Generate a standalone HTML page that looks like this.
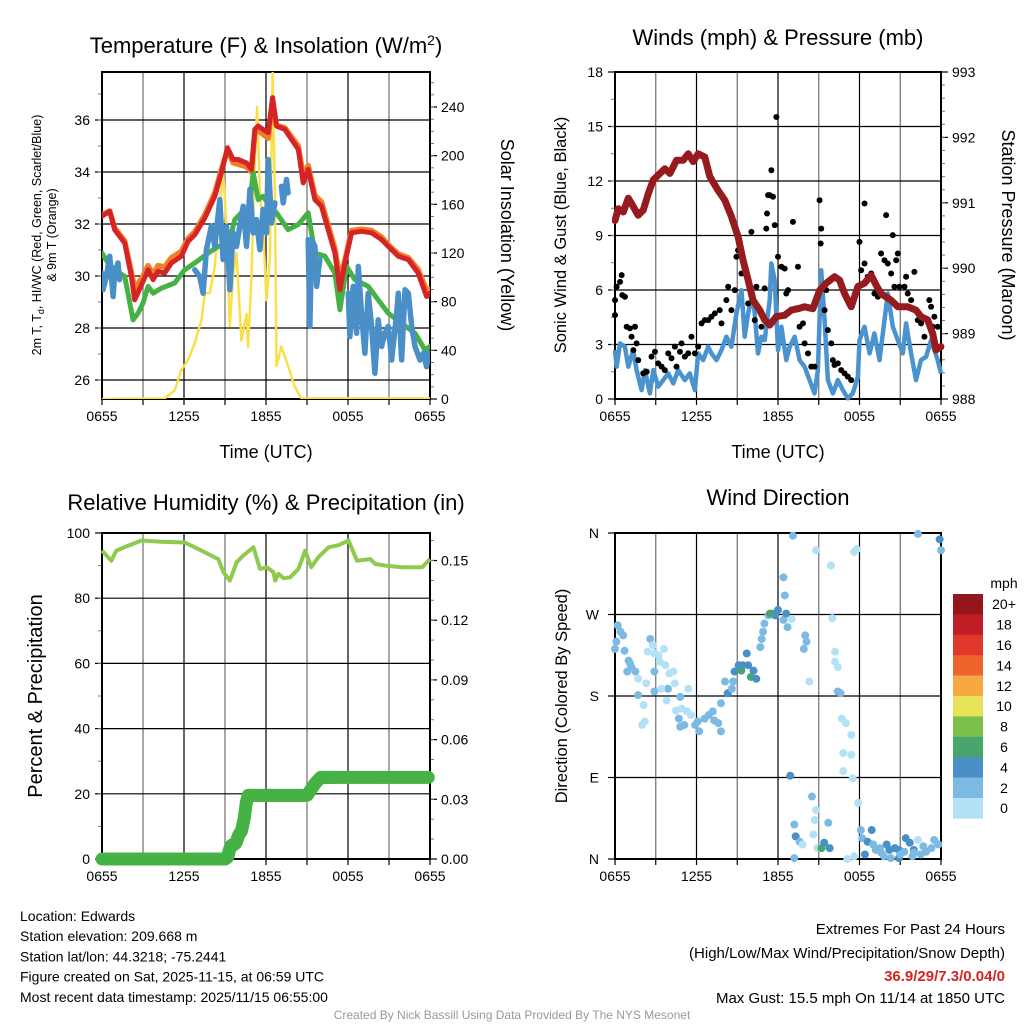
<!DOCTYPE html>
<html><head><meta charset="utf-8"><style>
body{margin:0;background:#fff}
svg{display:block;font-family:"Liberation Sans",Arial,sans-serif}
</style></head><body>
<svg id="s" width="1024" height="1024" viewBox="0 0 1024 1024" xmlns="http://www.w3.org/2000/svg">
<rect width="1024" height="1024" fill="#fff"/>
</svg>
<script>
// ---------- DATA ----------
const xTickLabels=["0655","1255","1855","0055","0655"];
const tempTicks=[26,28,30,32,34,36];
const solarTicks=[0,40,80,120,160,200,240];
const windTicks=[0,3,6,9,12,15,18];
const presTicks=[988,989,990,991,992,993];
const rhTicks=[0,20,40,60,80,100];
const precipTicks=[0.00,0.03,0.06,0.09,0.12,0.15];
const dirLabels=["N","E","S","W","N"];
const speedBins=["0","2","4","6","8","10","12","14","16","18","20+"];
const speedColors=["#b5e1f7","#7dbae3","#4a90c6","#49a56e","#7cc04b","#e6e25a","#f6a843","#ef632c","#e0382c","#c01e24","#93161a"];

const redT=[0,0.56,0.93,1.66,2.15,2.39,3.0,3.37,3.74,4.1,4.59,5.08,5.81,6.3,6.79,7.52,8.25,8.74,9.18,9.59,9.96,10.57,10.94,11.18,11.43,11.79,12.16,12.48,12.77,13.38,13.87,14.36,14.72,15.09,15.58,16.06,16.55,17.04,17.41,17.77,18.26,18.99,19.73,20.46,20.95,21.68,22.41,23.14,23.75,24];
const redV=[32.3,32.49,31.78,31.27,29.98,29.08,29.79,30.24,29.86,30.18,30.11,30.5,30.76,31.33,31.59,32.23,33.07,33.97,34.93,34.48,34.48,34.35,34.1,35.64,35.77,35.64,35.51,36.86,35.77,35.64,35.25,34.87,33.58,34.1,32.94,32.68,31.78,30.88,29.47,30.5,31.66,31.72,31.66,31.4,31.14,30.76,30.63,30.11,29.21,29.34];
const orangeV=[32.35,32.5,31.85,31.35,30.15,29.5,30.0,30.4,30.05,30.4,30.35,30.7,30.95,31.45,31.7,32.35,33.2,34.1,34.85,34.35,34.3,34.2,34.0,35.5,35.6,35.45,35.3,36.7,35.8,35.7,35.35,35.0,33.85,34.25,33.1,32.85,31.95,31.05,29.9,30.6,31.75,31.8,31.75,31.5,31.2,30.85,30.7,30.25,29.45,29.5];
const greenT=[0,0.44,0.93,1.66,1.9,2.27,2.64,3.0,3.37,3.74,4.35,5.32,6.05,6.79,7.76,8.5,9.23,9.72,10.2,10.69,11.06,11.43,11.79,12.28,12.77,13.62,14.36,15.09,15.58,16.31,17.04,17.41,17.9,18.5,19.48,20.21,20.95,21.92,22.9,23.63,24];
const greenV=[30.88,30.5,30.24,29.98,29.34,28.31,28.57,28.96,29.6,29.34,29.53,29.73,30.24,30.5,30.88,31.14,31.14,32.17,32.43,32.3,33.97,32.94,33.07,32.68,32.43,31.78,31.98,32.43,30.88,30.76,30.11,28.7,30.37,29.86,29.6,29.08,28.57,28.18,27.8,27.16,27.29];
const blueT=[0,0.07,0.32,0.56,0.81,0.93,1.17,1.29,null,6.79,7.15,7.4,7.64,8.0,8.25,8.62,8.86,9.11,9.35,9.59,9.84,10.08,10.33,10.57,10.82,11.06,11.3,11.55,11.79,12.04,12.16,12.4,12.65,null,13.13,13.26,13.5,13.62,null,15.09,15.21,15.33,15.58,15.7,15.94,null,18.02,18.14,18.38,18.63,18.75,18.99,19.24,19.48,19.73,19.97,20.21,20.46,20.7,20.95,21.19,21.56,21.68,21.92,22.17,22.41,22.66,22.9,23.27,23.51,23.75,23.88];
const blueV=[30.11,29.47,29.98,30.76,29.21,30.11,30.5,29.86,null,30.24,29.98,29.34,31.01,31.91,31.14,32.94,30.63,31.91,29.47,31.66,31.14,31.91,32.68,31.14,33.33,31.66,32.17,31.01,32.56,31.66,34.48,32.04,32.81,null,33.45,32.81,33.71,33.2,null,31.4,28.06,31.4,31.14,29.6,30.63,null,29.34,27.67,29.6,27.8,30.37,28.57,27.03,29.34,28.06,26.26,28.31,27.29,27.8,28.06,26.77,28.57,29.34,26.77,29.47,29.34,28.06,27.29,26.77,27.03,26.51,27.03];
const solarT=[0,4.59,5.32,5.81,6.3,6.79,7.28,7.52,7.89,8.25,8.5,8.86,9.11,9.35,9.59,9.84,10.2,10.57,10.69,10.94,11.18,11.35,11.55,11.79,12.04,12.28,12.48,12.65,12.77,13.13,13.62,14.11,14.6,24];
const solarV=[0,0.5,7,24,32,46,65,87,87,109,147,186,142,60,101,120,48,70,43,101,196,240,169,142,81,114,268,169,27,43,27,10,0.5,0.5];

const presT=[0,0.24,0.61,0.98,1.35,1.71,2.08,2.45,2.82,3.31,3.67,4.04,4.53,5.02,5.39,5.76,6.12,6.61,6.98,7.59,8.08,8.57,9.06,9.43,9.8,10.16,10.65,11.02,11.39,11.88,12.49,12.98,13.47,13.96,14.57,15.06,15.55,16.16,16.53,16.9,17.39,17.88,18.37,18.86,19.23,19.59,20.33,20.82,21.55,22.16,22.53,23.02,23.39,23.63,24];
const presV=[990.73,990.91,990.86,991.07,990.94,990.81,990.89,991.14,991.35,991.45,991.52,991.45,991.65,991.65,991.75,991.63,991.75,991.7,991.4,991.19,991.04,990.79,990.48,990.12,989.82,989.51,989.36,989.21,989.13,989.26,989.28,989.36,989.38,989.41,989.38,989.66,989.77,989.87,989.82,989.61,989.41,989.72,989.77,989.89,989.74,989.61,989.51,989.41,989.41,989.36,989.26,989.21,989.0,988.75,988.8];
const windT=[0,0.12,0.37,0.73,0.98,1.35,1.59,1.96,2.2,2.57,2.82,3.18,3.55,3.92,4.29,4.65,5.14,5.51,5.88,6.12,6.49,6.86,7.1,7.47,7.84,8.2,8.57,8.94,9.31,9.55,9.8,10.16,10.53,10.78,11.02,11.39,11.51,11.76,12.0,12.25,12.61,12.86,13.23,13.59,13.96,14.33,14.69,14.94,15.18,15.43,15.67,16.04,16.41,16.78,17.14,17.51,17.88,18.0,18.37,18.74,19.1,19.47,19.84,20.08,20.45,20.82,21.19,21.43,21.8,22.16,22.53,22.9,23.27,23.76,24];
const windV=[2.69,1.78,3.06,2.88,1.78,2.69,1.59,0.49,1.59,0.31,1.59,0.68,1.04,1.41,0.86,1.59,1.04,1.41,0.49,2.51,2.14,2.88,2.51,2.14,2.69,3.43,2.88,4.71,5.99,3.43,4.71,5.81,2.51,3.43,3.24,5.44,7.46,6.54,2.69,3.98,2.14,2.88,3.43,2.14,1.78,1.04,0.31,1.59,7.09,4.34,1.04,0.31,1.04,0.49,0.04,0.31,1.23,3.24,3.98,2.51,3.61,2.14,4.34,5.81,3.98,3.24,2.51,4.16,2.51,1.04,2.14,2.33,3.24,2.14,1.41];
const gustT=[0,0,0.12,0.37,0.49,0.54,0.73,0.86,1.1,1.47,1.22,1.59,1.35,1.71,2.08,2.33,2.69,2.94,3.18,3.43,3.67,3.92,4.16,4.41,4.53,4.78,4.9,5.14,5.39,5.63,5.88,6.12,6.37,6.61,6.86,7.1,7.35,7.71,7.84,8.2,8.33,8.57,8.82,8.94,9.06,9.18,9.31,9.55,9.8,10.04,10.29,10.41,10.78,11.02,11.14,11.19,11.27,11.39,11.51,11.63,11.76,11.88,12.0,12.25,12.49,12.61,12.74,13.1,13.35,13.47,13.59,13.84,13.96,14.21,14.45,14.69,15.06,15.14,15.18,15.43,15.55,15.67,15.92,16.04,16.16,16.41,16.65,16.9,17.14,17.39,18.0,18.12,18.37,18.37,18.61,18.86,19.1,19.35,19.59,19.84,19.96,20.08,20.33,20.45,20.57,20.7,20.82,20.94,21.31,21.43,21.55,21.8,22.04,22.29,22.53,22.78,23.14,23.27,23.39,23.51,23.76];
const gustV=[5.44,4.62,6.18,6.45,6.82,5.72,5.63,3.98,3.89,3.98,3.43,3.06,2.69,2.14,1.41,1.5,2.33,2.6,1.96,1.78,1.59,2.51,2.24,2.88,1.78,2.6,3.06,2.33,2.51,3.43,2.51,2.88,4.16,4.34,4.34,4.53,4.71,4.89,4.16,5.44,6.18,4.89,5.99,7.83,8.19,8.65,6.91,6.91,5.26,9.2,4.34,6.18,3.98,6.09,9.38,10.21,11.22,11.22,12.59,11.13,9.57,15.52,7.83,7.28,7.18,5.81,5.99,9.75,4.99,7.28,3.98,4.16,3.06,2.51,1.78,1.78,10.94,8.56,9.38,4.89,5.99,3.79,3.06,2.14,1.87,1.96,1.59,1.41,1.23,1.04,8.65,7.09,7.46,10.76,6.73,6.91,5.81,5.63,8.01,7.64,10.12,7.46,6.91,9.02,6.18,7.64,8.01,6.18,6.18,6.73,5.81,5.44,7.0,4.34,4.16,3.43,5.44,5.08,3.98,4.53,3.98];

const rhT=[0,0.68,1.05,1.91,2.89,4.35,6.06,7.04,8.51,8.88,9.36,9.85,10.34,11.08,11.56,12.05,12.54,12.67,12.91,13.28,13.77,14.38,14.87,15.31,15.84,16.58,17.31,18.04,18.66,19.63,20.0,20.73,21.96,23.43,24];
const rhV=[94.6,91.5,94.6,96.1,97.7,97.3,97.1,95.1,92.0,88.0,85.4,91.0,93.1,95.6,89.0,89.5,88.0,85.4,87.5,86.1,86.4,89.0,94.6,89.5,92.6,95.6,96.3,97.7,91.5,92.0,90.5,90.0,89.5,89.5,92.0];
const precipT=[0,1,2,3,4,5,6,7,8,8.5,9,9.2,9.3,9.4,9.5,9.6,9.8,10.0,10.2,10.4,10.55,10.7,11,11.5,12,12.5,13,13.5,14,14.5,15,15.3,15.6,16,16.5,17,18,19,20,21,22,23,24];
const precipV=[0,0,0,0,0,0,0,0,0,0,0,0.001,0.004,0.006,0.007,0.007,0.008,0.012,0.014,0.02,0.028,0.032,0.032,0.032,0.032,0.032,0.032,0.032,0.032,0.032,0.032,0.035,0.038,0.041,0.041,0.041,0.041,0.041,0.041,0.041,0.041,0.041,0.041];

const dirPts=[[0,232,3],[0.2,258,3],[0.4,251,3],[0.6,247,3],[0.1,240,3],[0.7,230,3],[1.0,219,3],[1.1,216,3],[1.2,212,3],[0.9,207,3],[1.5,207,3],[1.7,199,1],[1.7,181,3],[2.1,170,1],[2.3,194,1],[2.0,148,1],[2.2,152,1],[2.6,243,3],[2.4,229,1],[2.8,236,1],[2.9,227,1],[3.2,225,1],[3.3,218,1],[3.6,232,1],[3.7,214,1],[4.0,205,1],[4.3,207,1],[4.4,194,1],[3.9,188,3],[2.9,185,3],[2.9,207,3],[3.4,188,1],[3.8,175,1],[4.8,179,3],[5.4,188,1],[4.5,164,1],[4.9,166,1],[5.3,163,1],[4.7,155,3],[4.8,146,3],[5.1,148,3],[5.6,159,1],[5.9,148,3],[6.2,141,3],[6.1,152,3],[6.6,155,3],[6.9,159,3],[7.2,163,3],[7.3,153,3],[7.6,150,3],[7.8,141,3],[7.8,172,3],[8.1,196,3],[8.3,183,5],[8.6,188,3],[8.7,196,3],[8.8,207,5],[9.1,214,5],[9.3,208,7],[9.4,214,5],[9.7,227,5],[9.8,214,5],[10.0,201,7],[10.2,208,5],[10.4,199,5],[10.7,234,3],[10.8,243,3],[10.9,251,3],[11.0,260,3],[11.3,269,3],[11.4,271,7],[11.6,271,7],[11.8,269,5],[12.0,275,5],[12.4,264,3],[12.6,271,5],[12.7,256,3],[13.0,265,1],[12.5,291,3],[12.4,311,3],[13.1,357,3],[14.0,247,3],[14.1,240,3],[13.9,232,3],[14.3,196,1],[14.8,341,1],[15.9,324,1],[16.0,266,1],[16.2,229,1],[16.2,218,1],[16.4,212,1],[16.4,185,3],[16.6,183,3],[16.7,155,1],[17.0,150,1],[17.4,137,1],[16.8,117,1],[17.4,115,1],[16.8,97,1],[17.5,89,1],[17.9,62,1],[17.8,342,1],[17.6,339,1],[12.9,92,5],[13.2,38,3],[13.3,25,5],[13.6,19,3],[13.8,16,1],[13.2,1,3],[14.5,69,3],[14.8,54,1],[14.7,43,1],[14.6,27,1],[14.9,12,1],[15.2,12,7],[15.4,18,5],[15.8,12,5],[15.7,40,3],[17.1,0,1],[17.6,3,1],[18.1,32,3],[18.2,23,3],[18.4,5,5],[18.6,19,5],[18.9,32,5],[19.0,16,3],[19.2,10,3],[19.6,7,3],[20.0,16,5],[20.2,10,5],[20.3,1,3],[20.6,12,5],[20.9,10,5],[21.3,8,3],[21.4,23,5],[21.7,18,5],[22.0,10,5],[22.3,21,1],[22.5,5,3],[22.9,8,3],[23.3,12,3],[23.5,21,3],[23.8,16,3],[22.3,359,3],[23.9,353,5],[24.0,341,3],[22.0,7,3],[19.5,12,3],[20.9,1,5],[21.0,5,3],[21.9,3,3],[19.8,3,3],[22.7,14,3]];

// ---------- HELPERS ----------
const S=document.getElementById('s');const NS="http://www.w3.org/2000/svg";
function el(tag,attrs,parent){const e=document.createElementNS(NS,tag);for(const k in attrs)e.setAttribute(k,attrs[k]);(parent||S).appendChild(e);return e;}
function txt(str,x,y,size,anchor,parent,extra){const t=el('text',Object.assign({x:x,y:y,'font-size':size,'text-anchor':anchor||'middle',fill:'#000'},extra||{}),parent);t.textContent=str;return t;}
function lin(d0,d1,p0,p1){return v=>p0+(v-d0)/(d1-d0)*(p1-p0);}
function pathOf(ts,vs,X,Y){let d="",pen=false;for(let i=0;i<ts.length;i++){if(ts[i]===null||vs[i]===null){pen=false;continue;}d+=(pen?"L":"M")+X(ts[i]).toFixed(1)+","+Y(vs[i]).toFixed(1);pen=true;}return d;}

function frame(name,L,R,T,B,X,leftTicks,LY,leftMinor,rightTicks,RY,rightMinor,rightFmt){
  const g=el('g',{},S);
  
  
  // vertical grid every 3h
  for(let h=0;h<=24;h+=3){const x=X(h);const l=el('line',{x1:x,x2:x,y1:T,y2:B,stroke:h%6==0?'#000':'#6e6e6e','stroke-width':h%6==0?1.2:1.2},g);
    el('line',{x1:x,x2:x,y1:B,y2:B+6,stroke:'#000','stroke-width':1.2},g);}
  const xl=el('g',{},g);
  
  
  xTickLabels.forEach((s,i)=>txt(s,X(i*6),B+22,14,'middle',xl));
  leftTicks.forEach(v=>{const y=LY(v);el('line',{x1:L,x2:R,y1:y,y2:y,stroke:'#000','stroke-width':1.2},g);el('line',{x1:L-7,x2:L,y1:y,y2:y,stroke:'#000','stroke-width':1.2},g);});
  leftMinor.forEach(v=>{const y=LY(v);if(y>T&&y<B)el('line',{x1:L-4,x2:L,y1:y,y2:y,stroke:'#777','stroke-width':1},g);});
  if(rightTicks){rightTicks.forEach(v=>{const y=RY(v);el('line',{x1:R,x2:R+7,y1:y,y2:y,stroke:'#000','stroke-width':1.2},g);txt(rightFmt(v),R+11,y+5,14,'start',g);});
    rightMinor.forEach(v=>{const y=RY(v);if(y>T&&y<B)el('line',{x1:R,x2:R+4,y1:y,y2:y,stroke:'#777','stroke-width':1},g);});}
  el('rect',{x:L,y:T,width:R-L,height:B-T,fill:'none',stroke:'#000','stroke-width':2},g);
  return g;
}
function range(a,b,s){const r=[];for(let v=a;v<=b+1e-9;v+=s)r.push(+v.toFixed(4));return r;}

// ---------- PANEL 1 ----------
{const L=102,R=430,T=72,B=399;const X=lin(0,24,L,R);const Y=lin(26,36,380,120);const RY=lin(0,240,399,107);
 const g=frame('temperature-panel',L,R,T,B,X,tempTicks,Y,range(25,37,1),solarTicks,RY,range(0,260,10),v=>String(v));
 tempTicks.forEach(v=>txt(String(v),L-12,Y(v)+5,14,'end',g));
 const cl=el('clipPath',{id:'c1'},S);el('rect',{x:L,y:T,width:R-L,height:B-T},cl);
 const sg=el('g',{'clip-path':'url(#c1)'},S);
 const s1=el('path',{d:pathOf(solarT,solarV,X,RY),fill:'none',stroke:'#f9e04b','stroke-width':2.5,'stroke-linejoin':'round'},sg);
 
 const s2=el('path',{d:pathOf(redT,orangeV,X,Y),fill:'none',stroke:'#f47d2a','stroke-width':5.5,'stroke-linejoin':'round','stroke-linecap':'round'},sg);
 
 const s3=el('path',{d:pathOf(greenT,greenV,X,Y),fill:'none',stroke:'#46b245','stroke-width':5,'stroke-linejoin':'round','stroke-linecap':'round'},sg);
 
 const s4=el('path',{d:pathOf(blueT,blueV,X,Y),fill:'none',stroke:'#4a8fc8','stroke-width':5.5,'stroke-linejoin':'round','stroke-linecap':'round'},sg);
 
 const s5=el('path',{d:pathOf(redT,redV,X,Y),fill:'none',stroke:'#d42426','stroke-width':5,'stroke-linejoin':'round','stroke-linecap':'round'},sg);
 
 const t=el('text',{x:266,y:53,'font-size':22,'text-anchor':'middle'});t.innerHTML='Temperature (F) &amp; Insolation (W/m<tspan dy="-8" font-size="14">2</tspan><tspan dy="8">)</tspan>';
 
 txt('Time (UTC)',266,458,18,'middle',S,{});
 const yl=el('text',{transform:'translate(41,235) rotate(-90)','font-size':12.5,'text-anchor':'middle'});yl.innerHTML='2m T, T<tspan dy="3" font-size="9">d</tspan><tspan dy="-3">, HI/WC (Red, Green, Scarlet/Blue)</tspan>';
 
 txt('& 9m T (Orange)',0,0,12.5,'middle',S,{transform:'translate(56,235) rotate(-90)',});
 txt('Solar Insolation (Yellow)',0,0,18,'middle',S,{transform:'translate(501,235) rotate(90)',});
}
// ---------- PANEL 2 ----------
{const L=615,R=941,T=72,B=399;const X=lin(0,24,L,R);const Y=lin(0,18,B,T);const RY=lin(988,993,B,T);
 const g=frame('winds-panel',L,R,T,B,X,windTicks,Y,range(0,18,1.5),presTicks,RY,range(988,993,0.2),v=>String(v));
 windTicks.forEach(v=>txt(String(v),L-12,Y(v)+5,14,'end',g));
 const cl=el('clipPath',{id:'c2'},S);el('rect',{x:L-3,y:T-3,width:R-L+6,height:B-T+6},cl);
 const sg=el('g',{'clip-path':'url(#c2)'},S);
 const w=el('path',{d:pathOf(windT,windV,X,Y),fill:'none',stroke:'#4a93cf','stroke-width':4.5,'stroke-linejoin':'round'},sg);
 
 const gg=el('g',{},sg);
 
 gustT.forEach((t,i)=>{const c=el('circle',{cx:X(t),cy:Y(gustV[i]),r:3,fill:'#000'},gg);
   
   });
 const p=el('path',{d:pathOf(presT,presV,X,RY),fill:'none',stroke:'#961b1e','stroke-width':7,'stroke-linejoin':'round','stroke-linecap':'round'},sg);
 
 txt('Winds (mph) & Pressure (mb)',778,45,22,'middle',S,{});
 txt('Time (UTC)',778,458,18,'middle',S,{});
 txt('Sonic Wind & Gust (Blue, Black)',0,0,16.5,'middle',S,{transform:'translate(566,235) rotate(-90)',});
 txt('Station Pressure (Maroon)',0,0,18,'middle',S,{transform:'translate(1002,235) rotate(90)',});
}
// ---------- PANEL 3 ----------
{const L=102,R=430,T=533,B=859;const X=lin(0,24,L,R);const Y=lin(0,100,B,T);const RY=lin(0,0.03,859,799.3);
 const g=frame('humidity-panel',L,R,T,B,X,rhTicks,Y,range(0,100,10),precipTicks,RY,range(0,0.16,0.01),v=>v.toFixed(2));
 rhTicks.forEach(v=>txt(String(v),L-12,Y(v)+5,14,'end',g));
 const h=el('path',{d:pathOf(rhT,rhV,X,Y),fill:'none',stroke:'#8fca4e','stroke-width':4,'stroke-linejoin':'round'});
 
 const pg=el('g',{});
 
 for(let i=0;i<precipT.length-1;i++){const n=8;for(let k=0;k<n;k++){const f=k/n;const t=precipT[i]+(precipT[i+1]-precipT[i])*f;const v=precipV[i]+(precipV[i+1]-precipV[i])*f;
   const c=el('circle',{cx:X(t),cy:RY(v),r:6.5,fill:'#46b245'},pg);
   
   }}
 txt('Relative Humidity (%) & Precipitation (in)',266,510,22,'middle',S,{});
 txt('Percent & Precipitation',0,0,20,'middle',S,{transform:'translate(42,696) rotate(-90)',});
}
// ---------- PANEL 4 ----------
{const L=615,R=941,T=533,B=859;const X=lin(0,24,L,R);const Y=lin(0,360,B,T);
 const g=frame('wind-direction-panel',L,R,T,B,X,[0,90,180,270,360],Y,[],null,null,null,null);
 dirLabels.forEach((s,i)=>txt(s,L-16,Y(i*90)+5,14,'end',g));
 const cl=el('clipPath',{id:'c4'},S);el('rect',{x:L-6,y:T-6,width:R-L+12,height:B-T+12},cl);
 const pg=el('g',{'clip-path':'url(#c4)'});
 
 dirPts.forEach(p=>{const ci=Math.min(10,Math.floor(p[2]/2));const c=el('circle',{cx:X(p[0]),cy:Y(p[1]),r:4,fill:speedColors[ci]},pg);
   
   });
 txt('Wind Direction',778,505,22,'middle',S,{});
 txt('Direction (Colored By Speed)',0,0,16.5,'middle',S,{transform:'translate(567,696) rotate(-90)',});
 const lg=el('g',{});
 
 txt('mph',1004,588,14,'middle',lg);
 const top=594,bh=20.4;
 for(let i=0;i<11;i++){const idx=10-i;const y=top+i*bh;el('rect',{x:953,y:y,width:30,height:bh+0.3,fill:speedColors[idx]},lg);
   txt(speedBins[idx],1004,y+bh/2+5,14,'middle',lg);}
}
// ---------- FOOTER ----------
{const fg=el('g',{});
 
 ["Location: Edwards","Station elevation: 209.668 m","Station lat/lon: 44.3218; -75.2441","Figure created on Sat, 2025-11-15, at 06:59 UTC","Most recent data timestamp: 2025/11/15 06:55:00"].forEach((s,i)=>txt(s,20,921+i*20.2,14,'start',fg));
 const eg=el('g',{});
 
 txt('Extremes For Past 24 Hours',1005,934,15,'end',eg);
 txt('(High/Low/Max Wind/Precipitation/Snow Depth)',1005,958,15,'end',eg);
 txt('36.9/29/7.3/0.04/0',1005,981,15,'end',eg,{fill:'#d42426','font-weight':'bold'});
 txt('Max Gust: 15.5 mph On 11/14 at 1850 UTC',1005,1003,15,'end',eg);
 txt('Created By Nick Bassill Using Data Provided By The NYS Mesonet',512,1019,12,'middle',S,{fill:'#999',});
}
</script>
</body></html>
